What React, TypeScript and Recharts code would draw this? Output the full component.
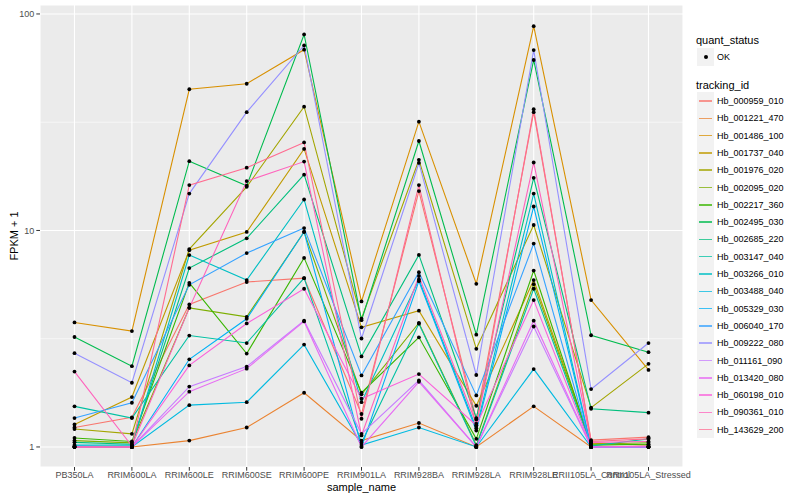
import { LineChart, Line, XAxis, YAxis, CartesianGrid, ReferenceLine } from 'recharts';

const samples = [
  'PB350LA', 'RRIM600LA', 'RRIM600LE', 'RRIM600SE', 'RRIM600PE', 'RRIM901LA',
  'RRIM928BA', 'RRIM928LA', 'RRIM928LE', 'RRII105LA_Control', 'RRII105LA_Stressed',
];

// FPKM + 1 per tracking_id, in sample order
const hb000959 = [1.23, 1.37, 4.55, 5.78, 6.02, 1.42, 15.2, 1.34, 35.2, 1.075, 1.11];
const hb001221 = [1.0, 1.0, 1.07, 1.23, 1.78, 1.07, 1.29, 1.0, 1.54, 1.0, 1.0];
const hb001486 = [3.76, 3.43, 44.9, 47.6, 68.4, 4.7, 31.8, 5.67, 87.8, 4.77, 2.27];
const hb001737 = [1.27, 1.7, 8.1, 9.84, 23.8, 3.57, 4.26, 1.55, 5.9, 1.04, 1.02];
const hb001976 = [1.21, 1.15, 8.2, 15.9, 37.3, 3.91, 21.2, 2.84, 10.6, 1.52, 2.42];
const hb002095 = [1.07, 1.045, 4.39, 3.99, 9.84, 1.75, 3.74, 1.02, 5.65, 1.03, 1.045];
const hb002217 = [1.1, 1.06, 5.73, 2.7, 7.47, 1.78, 3.21, 1.09, 6.53, 1.02, 1.03];
const hb002495 = [3.22, 2.36, 20.9, 16.1, 80.4, 3.85, 25.9, 3.3, 61.3, 3.28, 2.74];
const hb002685 = [1.05, 1.03, 6.7, 9.2, 18.1, 2.62, 7.71, 1.36, 17.5, 1.5, 1.44];
const hb003147 = [1.54, 1.36, 3.27, 3.02, 6.02, 1.045, 3.71, 1.01, 5.38, 1.01, 1.09];
const hb003266 = [1.02, 1.02, 7.7, 5.9, 13.9, 1.61, 5.94, 1.22, 14.8, 1.0, 1.0];
const hb003488 = [1.0, 1.0, 1.56, 1.61, 2.97, 1.02, 1.23, 1.0, 2.29, 1.0, 1.0];
const hb005329 = [1.01, 1.0, 2.54, 3.91, 9.86, 1.0, 5.83, 1.19, 12.9, 1.0, 1.0];
const hb006040 = [1.36, 1.6, 5.61, 7.86, 10.26, 2.14, 6.41, 1.73, 8.7, 1.0, 1.0];
const hb009222 = [2.71, 1.98, 14.8, 35.2, 71.5, 3.17, 20.5, 2.15, 68.1, 1.85, 3.02];
const hb011161 = [1.0, 1.0, 1.9, 2.35, 3.83, 1.15, 2.03, 1.0, 3.6, 1.0, 1.0];
const hb013420 = [1.0, 1.0, 1.8, 2.3, 3.8, 1.0, 2.0, 1.0, 3.83, 1.0, 1.0];
const hb060198 = [1.0, 1.0, 2.38, 3.72, 5.38, 1.67, 2.17, 1.26, 4.77, 1.0, 1.01];
const hb090361 = [2.23, 1.01, 4.39, 16.9, 20.8, 1.13, 6.16, 1.28, 20.6, 1.05, 1.06];
const hb143629 = [1.0, 1.0, 16.2, 19.5, 25.5, 1.35, 16.2, 1.25, 36.3, 1.06, 1.09];

const trackingIds = [
  'Hb_000959_010', 'Hb_001221_470', 'Hb_001486_100', 'Hb_001737_040', 'Hb_001976_020',
  'Hb_002095_020', 'Hb_002217_360', 'Hb_002495_030', 'Hb_002685_220', 'Hb_003147_040',
  'Hb_003266_010', 'Hb_003488_040', 'Hb_005329_030', 'Hb_006040_170', 'Hb_009222_080',
  'Hb_011161_090', 'Hb_013420_080', 'Hb_060198_010', 'Hb_090361_010', 'Hb_143629_200',
];

const seriesValues = [
  hb000959, hb001221, hb001486, hb001737, hb001976, hb002095, hb002217, hb002495, hb002685, hb003147,
  hb003266, hb003488, hb005329, hb006040, hb009222, hb011161, hb013420, hb060198, hb090361, hb143629,
];

// ggplot hue palette, 20 levels
const lineColors = [
  '#F8766D', '#EA8331', '#D89000', '#C09B00', '#A3A500', '#7CAE00', '#39B600', '#00BB4E', '#00BF7D', '#00C1A3',
  '#00BFC4', '#00BAE0', '#00B0F6', '#35A2FF', '#9590FF', '#C77CFF', '#E76BF3', '#FA62DB', '#FF62BC', '#FF6C91',
];

const yTicks = [1, 10, 100];
const minorTicks = [3.1623, 31.623];

const rows = samples.map((sample, i) => {
  const row: Record<string, string | number> = { sample };
  trackingIds.forEach((id, k) => {
    row[id] = seriesValues[k][i];
  });
  return row;
});

const FONT = '"Liberation Sans", Arial, Helvetica, sans-serif';

const XTitle = (props: any) => {
  const { viewBox } = props;
  const cx = viewBox.x + viewBox.width / 2;
  return (
    <text x={cx} y={487} textAnchor="middle" dominantBaseline="central" fontSize={11} fill="#000" fontFamily={FONT}>
      sample_name
    </text>
  );
};

const YTitle = (props: any) => {
  const { viewBox } = props;
  const cx = 14;
  const cy = viewBox.y + viewBox.height / 2;
  return (
    <text
      x={cx}
      y={cy}
      transform={`rotate(-90 ${cx} ${cy})`}
      textAnchor="middle"
      dominantBaseline="central"
      fontSize={11}
      fill="#000"
      fontFamily={FONT}
    >
      FPKM + 1
    </text>
  );
};

const KEY = 17.3;

const Legend = () => (
  <div style={{ position: 'absolute', left: 696, top: 0, fontFamily: FONT, color: '#000' }}>
    <div style={{ position: 'absolute', top: 33, left: 0, fontSize: 11, whiteSpace: 'nowrap', lineHeight: '15px' }}>
      quant_status
    </div>
    <div style={{ position: 'absolute', top: 57 - KEY / 2, left: 1, width: KEY, height: KEY, background: '#F2F2F2' }}>
      <div
        style={{
          position: 'absolute', left: KEY / 2 - 2, top: KEY / 2 - 2, width: 4, height: 4,
          borderRadius: 2, background: '#000',
        }}
      />
    </div>
    <div style={{ position: 'absolute', top: 57 - 6, left: 21, fontSize: 9, lineHeight: '12px' }}>OK</div>
    <div style={{ position: 'absolute', top: 78, left: 0, fontSize: 11, whiteSpace: 'nowrap', lineHeight: '15px' }}>
      tracking_id
    </div>
    {trackingIds.map((id, k) => {
      const cy = 101 + k * KEY;
      return (
        <div key={id}>
          <div
            style={{ position: 'absolute', top: cy - KEY / 2, left: 1, width: KEY, height: KEY, background: '#F2F2F2' }}
          >
            <div
              style={{
                position: 'absolute', left: 2, top: KEY / 2 - 0.75, width: KEY - 4, height: 1.5,
                background: lineColors[k], opacity: 0.75,
              }}
            />
          </div>
          <div
            style={{ position: 'absolute', top: cy - 6, left: 21, fontSize: 9, lineHeight: '12px', whiteSpace: 'nowrap' }}
          >
            {id}
          </div>
        </div>
      );
    })}
  </div>
);

export default function App() {
  return (
    <div style={{ position: 'absolute', left: 0, top: 0, width: 800, height: 500, background: '#fff' }}>
      <LineChart width={800} height={500} data={rows} margin={{ top: 5, right: 117, bottom: 0, left: 0 }}>
        <CartesianGrid fill="#EBEBEB" stroke="#FFFFFF" strokeWidth={1.1} />
        {minorTicks.map((v) => (
          <ReferenceLine key={v} y={v} stroke="#FFFFFF" strokeWidth={0.55} ifOverflow="hidden" />
        ))}
        <XAxis
          dataKey="sample"
          interval={0}
          height={33}
          padding={{ left: 34.5, right: 34.5 }}
          axisLine={false}
          tickSize={3.7}
          tickMargin={1}
          tickLine={{ stroke: '#333333', strokeWidth: 1 }}
          tick={{ fontSize: 9, fill: '#4D4D4D', fontFamily: FONT }}
          label={<XTitle />}
        />
        <YAxis
          scale="log"
          domain={[0.808, 110]}
          allowDataOverflow
          ticks={yTicks}
          width={40}
          axisLine={false}
          tickSize={3.7}
          tickMargin={2}
          tickLine={{ stroke: '#333333', strokeWidth: 1 }}
          tick={{ fontSize: 9, fill: '#4D4D4D', fontFamily: FONT }}
          label={<YTitle />}
        />
        {trackingIds.map((id, k) => (
          <Line
            key={id}
            dataKey={id}
            type="linear"
            stroke={lineColors[k]}
            strokeWidth={1.1}
            dot={false}
            activeDot={false}
            isAnimationActive={false}
          />
        ))}
        {trackingIds.map((id) => (
          <Line
            key={`${id}-pt`}
            dataKey={id}
            type="linear"
            stroke="none"
            dot={{ r: 1.9, fill: '#000000', stroke: 'none' }}
            activeDot={false}
            legendType="none"
            isAnimationActive={false}
          />
        ))}
      </LineChart>
      <Legend />
    </div>
  );
}
